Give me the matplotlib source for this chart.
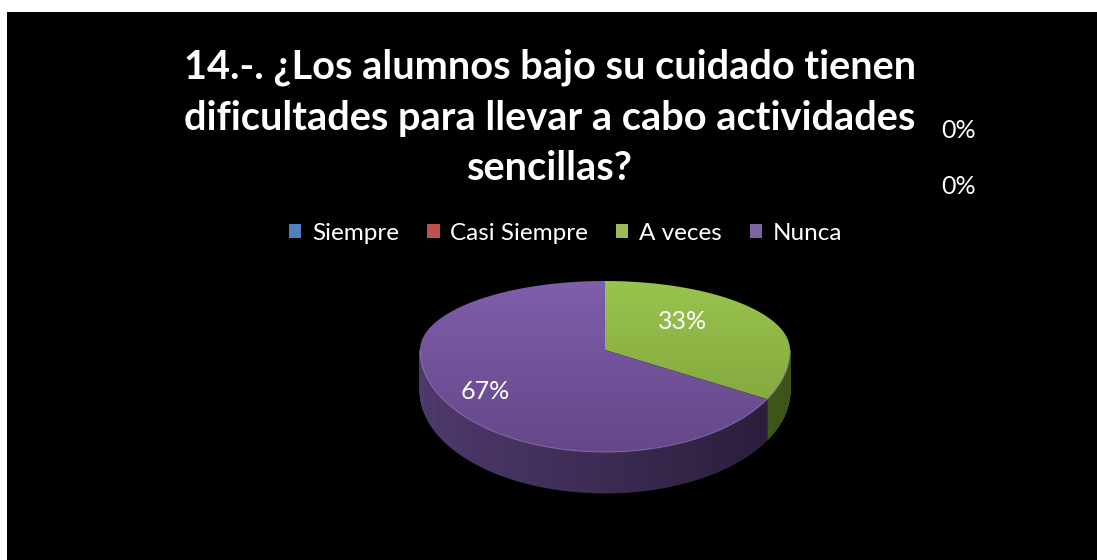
import numpy as np
import matplotlib.pyplot as plt
from matplotlib.patches import Polygon, Rectangle, Patch
from matplotlib.colors import to_rgb

categorias = ["Siempre", "Casi Siempre", "A veces", "Nunca"]
porcentajes = [0, 0, 33, 67]
colores = ["#4F81BD", "#C0504D", "#9BBB59", "#8064A2"]
# tonos de la cara superior (arriba, abajo) y del costado (izq, der)
tono_sup = {"#9BBB59": ("#99C44E", "#7C9E38"), "#8064A2": ("#7F5EAB", "#654789")}
tono_lado = {"#9BBB59": ("#56762A", "#3C5419"), "#8064A2": ("#4E3A6D", "#2A1C39")}
titulo = "14.-. ¿Los alumnos bajo su cuidado tienen\ndificultades para llevar a cabo actividades\nsencillas?"

plt.rcParams['font.family'] = ['Lato', 'DejaVu Sans']

fig = plt.figure(figsize=(10.97, 5.60), dpi=100)
fig.patch.set_facecolor("white")
ax = fig.add_axes([0, 0, 1, 1])
ax.set_xlim(0, 1097)
ax.set_ylim(560, 0)
ax.axis("off")
ax.add_patch(Rectangle((7, 12), 1090, 548, facecolor="black", edgecolor="none", zorder=0))

# geometria del pastel 3D (pixeles)
cx, cy = 605, 350
ra = 185
b_lejos, b_cerca = 69, 102
prof = 41


def punto(t):
    b = np.where(np.sin(t) >= 0, b_lejos, b_cerca)
    return cx + ra * np.cos(t), cy - b * np.sin(t)


def mezcla(c1, c2, f):
    a = np.array(to_rgb(c1))
    b = np.array(to_rgb(c2))
    return tuple(a + (b - a) * f)


total = sum(porcentajes)
acum = 0
cunas = []
for cat, v, col in zip(categorias, porcentajes, colores):
    th1 = 90 - acum / total * 360
    acum += v
    th2 = 90 - acum / total * 360
    cunas.append((cat, v, col, th2, th1))

# costados (mitad frontal)
for cat, v, col, th2, th1 in cunas:
    if v == 0:
        continue
    for k in (-1, 0, 1):
        lo = max(th2, -180 + 360 * k)
        hi = min(th1, 0 + 360 * k)
        if hi <= lo:
            continue
        ts = np.radians(np.linspace(lo, hi, 120)) - 2 * np.pi * k
        xs, ys = punto(ts)
        for i in range(len(ts) - 1):
            f = (xs[i] - (cx - ra)) / (2 * ra)
            c = mezcla(tono_lado[col][0], tono_lado[col][1], f)
            quad = [(xs[i], ys[i]), (xs[i + 1], ys[i + 1]),
                    (xs[i + 1], ys[i + 1] + prof), (xs[i], ys[i] + prof)]
            ax.add_patch(Polygon(quad, closed=True, facecolor=c, edgecolor=c,
                                 linewidth=0.6, zorder=2))

# caras superiores con degradado
grad = np.linspace(0, 1, 256)[:, None]
for cat, v, col, th2, th1 in cunas:
    if v == 0:
        continue
    ts = np.radians(np.linspace(th2, th1, 200))
    xs, ys = punto(ts)
    verts = [(cx, cy)] + list(zip(xs, ys))
    poly = Polygon(verts, closed=True, facecolor="none", edgecolor="none", zorder=3)
    ax.add_patch(poly)
    c1 = np.array(to_rgb(tono_sup[col][0]))
    c2 = np.array(to_rgb(tono_sup[col][1]))
    img = (c1 + (c2 - c1) * grad)[:, None, :].repeat(2, axis=1)
    im = ax.imshow(img, extent=(cx - ra - 2, cx + ra + 2, cy + b_cerca + 2, cy - b_lejos - 2),
                   origin="upper", aspect="auto", zorder=3, interpolation="bilinear")
    im.set_clip_path(poly)

# borde claro entre cara superior y costado
ts = np.radians(np.linspace(-180, 0, 200))
xs, ys = punto(ts)
ax.plot(xs, ys, color="#9A84BD", linewidth=0.8, alpha=0.6, zorder=4)

ax.set_xlim(0, 1097)
ax.set_ylim(560, 0)

# etiquetas de datos
radio_etiqueta = {"A veces": (0.49, 0.8), "Nunca": (0.75, 0.8)}
ceros = 0
for cat, v, col, th2, th1 in cunas:
    txt = f"{v:.0f}%"
    if v == 0:
        ax.text(959, 131 + 56 * ceros, txt, color="white", fontsize=18,
                ha="center", va="center", zorder=5)
        ceros += 1
        continue
    tm = np.radians((th1 + th2) / 2)
    rx, ry = radio_etiqueta[cat]
    b = b_lejos if np.sin(tm) >= 0 else b_cerca
    x = cx + ra * rx * np.cos(tm)
    y = cy - b * ry * np.sin(tm)
    ax.text(x, y, txt, color="white", fontsize=18, ha="center", va="center", zorder=5)

# titulo
ax.text(550, 118, titulo, color="white", fontsize=28.6, fontweight="bold",
        ha="center", va="center", linespacing=1.45, zorder=5)

# leyenda
handles = [Patch(facecolor=c, edgecolor="none") for c in colores]
ax.legend(handles, categorias, ncol=4, loc="center", bbox_to_anchor=(566, 233),
          bbox_transform=ax.transData, frameon=False, fontsize=17.5, labelcolor="white",
          handlelength=0.5, handleheight=0.5, handletextpad=0.45, columnspacing=1.15)

plt.savefig("out.png", dpi=100, facecolor=fig.get_facecolor())
